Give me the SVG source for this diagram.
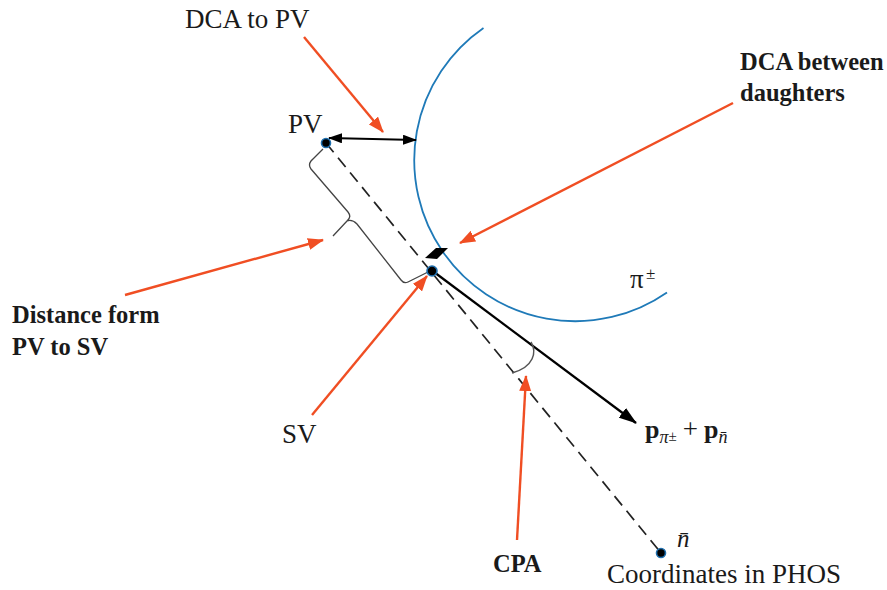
<svg xmlns="http://www.w3.org/2000/svg" width="887" height="590" viewBox="0 0 887 590">
<defs>
<style>
text{font-family:"Liberation Serif","Times New Roman","DejaVu Serif",serif;fill:#1a1a1a}
.reg{font-size:27px}
.bold{font-size:24.5px;font-weight:bold}
.red{stroke:#f04e23;stroke-width:2.4;fill:none}
.dot{fill:#000;stroke:#1f6fae;stroke-width:1.6}
</style>
<marker id="rh" viewBox="0 0 16 12" refX="15" refY="6" markerWidth="16" markerHeight="12" markerUnits="userSpaceOnUse" orient="auto">
<path d="M0,0 L16,6 L0,12 Z" fill="#f04e23"/>
</marker>
<marker id="bh" viewBox="0 0 18 12" refX="17" refY="6" markerWidth="18" markerHeight="12" markerUnits="userSpaceOnUse" orient="auto">
<path d="M0,0 L18,6 L0,12 Z" fill="#000"/>
</marker>
<marker id="dh" viewBox="0 0 14 10" refX="13" refY="5" markerWidth="14" markerHeight="10" markerUnits="userSpaceOnUse" orient="auto-start-reverse">
<path d="M0,0 L14,5 L0,10 Z" fill="#000"/>
</marker>
</defs>
<rect width="887" height="590" fill="#fff"/>

<g id="track">
<path d="M483.5,27.9 A161,161 0 0 0 667,292.5" fill="none" stroke="#1f7ab8" stroke-width="1.8"/>
<text class="reg" x="630" y="288">π</text>
<text x="646" y="279" font-size="17">±</text>
</g>

<g id="connectors">
<line x1="326" y1="143" x2="661" y2="553" stroke="#222" stroke-width="1.7" stroke-dasharray="12 7"/>
<line x1="434" y1="272" x2="636" y2="423" stroke="#000" stroke-width="2.3" marker-end="url(#bh)"/>
<line x1="329" y1="138" x2="416" y2="140" stroke="#000" stroke-width="2" marker-start="url(#dh)" marker-end="url(#dh)"/>
<path d="M323,149 L311,161 Q308,165 311,169 L348,212 Q352,217 347,221 L333,236 M347,221 Q352,219 357,224 L401,280 Q404,284 408,282 L428,272" fill="none" stroke="#444" stroke-width="1.3"/>
<path d="M531,342 C537,352 534,367 512,373" fill="none" stroke="#555" stroke-width="1.5"/>
<polygon points="425,258 436,248 448,248 437,259" fill="#000"/>
<line class="red" x1="304" y1="37" x2="383" y2="132" marker-end="url(#rh)"/>
<line class="red" x1="733" y1="103" x2="460" y2="243" marker-end="url(#rh)"/>
<line class="red" x1="125" y1="295" x2="323" y2="240" marker-end="url(#rh)"/>
<line class="red" x1="312" y1="415" x2="427" y2="276" marker-end="url(#rh)"/>
<line class="red" x1="517" y1="540" x2="526" y2="376" marker-end="url(#rh)"/>
</g>

<g id="pv">
<circle class="dot" cx="326" cy="143" r="4.5"/>
<text class="reg" x="288" y="133">PV</text>
</g>

<g id="sv">
<circle class="dot" cx="432" cy="271" r="5"/>
<text class="reg" x="282" y="443">SV</text>
</g>

<g id="nbar">
<circle class="dot" cx="661" cy="553" r="4.5"/>
<text x="677" y="547" font-size="25" font-style="italic">n̄</text>
<text class="reg" x="607" y="583">Coordinates in PHOS</text>
</g>

<g id="labels">
<text class="reg" x="185" y="28">DCA to PV</text>
<text class="bold" x="740" y="70">DCA between</text>
<text class="bold" x="740" y="101">daughters</text>
<text class="bold" x="12" y="323">Distance form</text>
<text class="bold" x="12" y="355">PV to SV</text>
<text class="bold" x="493" y="572">CPA</text>
<text x="645" y="438" font-size="26"><tspan font-weight="bold">p</tspan><tspan font-size="18" dy="5" font-style="italic">π</tspan><tspan font-size="15" dy="-2">±</tspan><tspan dy="-3" dx="6" font-size="27">+</tspan><tspan dx="6" font-weight="bold">p</tspan><tspan font-size="18" dy="5" font-style="italic">n̄</tspan></text>
</g>
</svg>
